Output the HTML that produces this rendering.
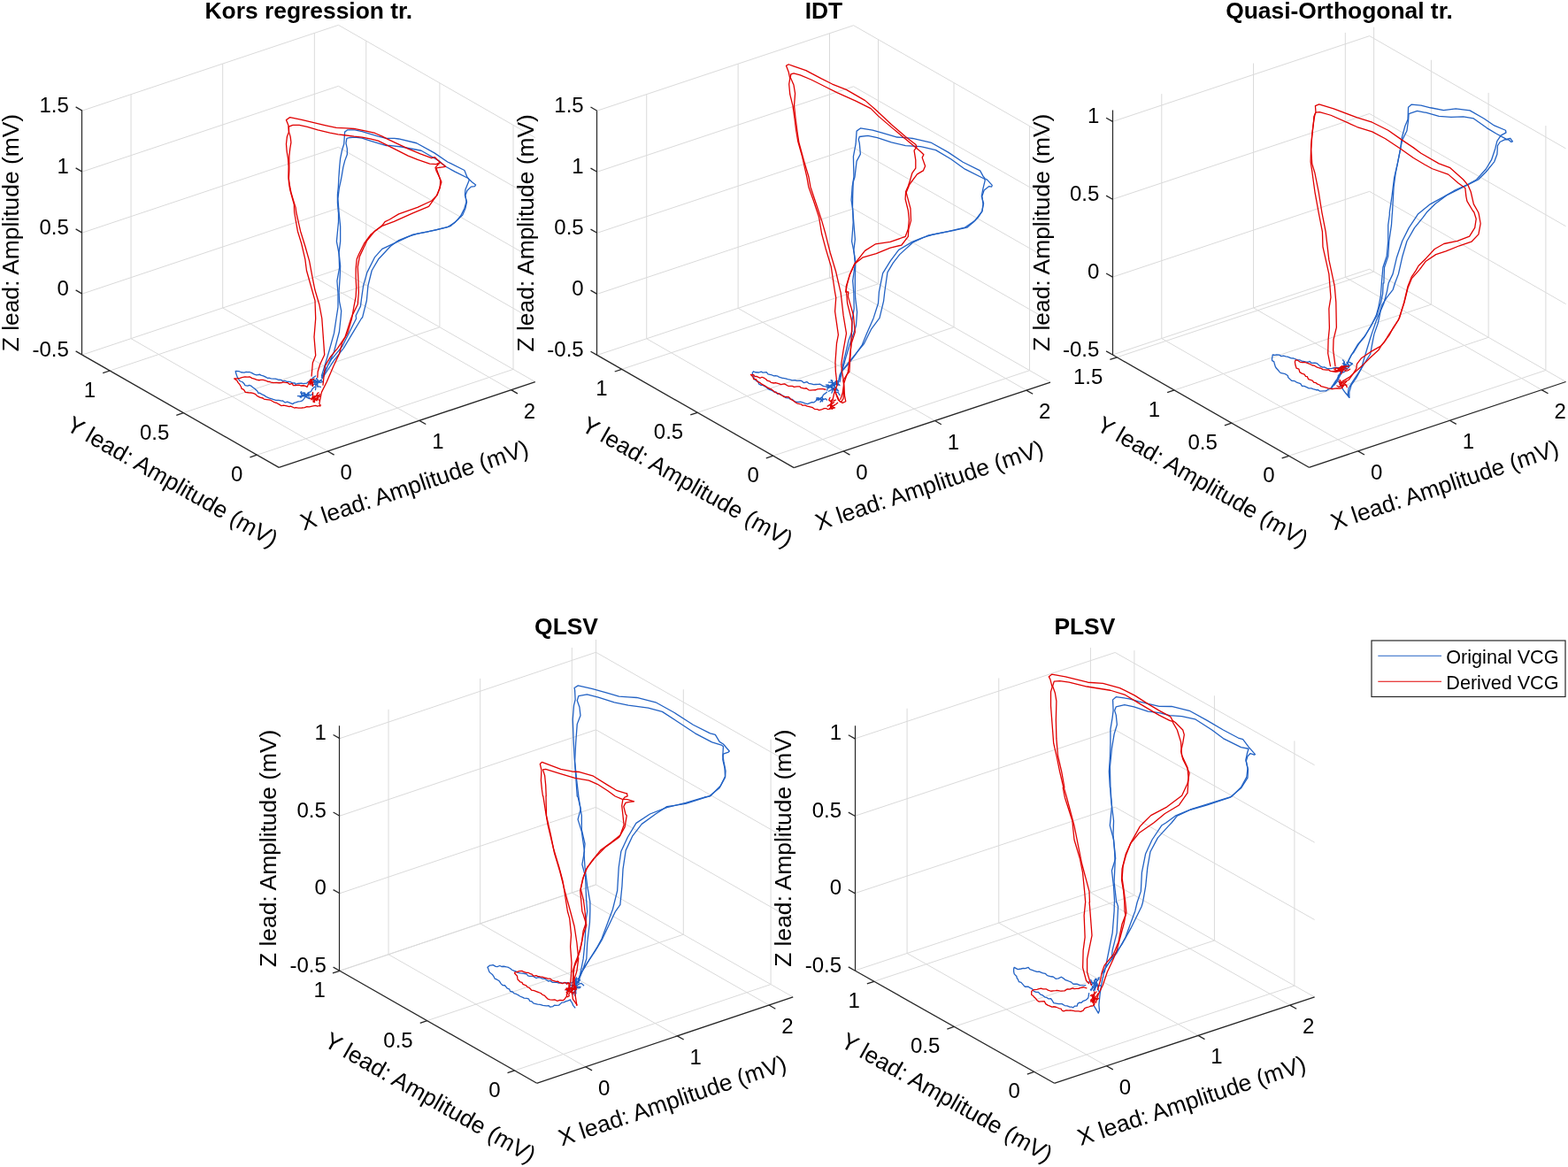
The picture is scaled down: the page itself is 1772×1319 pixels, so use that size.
<!DOCTYPE html>
<html><head><meta charset="utf-8"><title>VCG</title><style>html,body{margin:0;padding:0;background:#fff;}svg{display:block;}text{font-family:'Liberation Sans',Arial,Helvetica,sans-serif;}</style></head><body>
<svg width="1772" height="1319" viewBox="0 0 1772 1319" font-family="'Liberation Sans', Arial, Helvetica, sans-serif"><rect width="1772" height="1319" fill="#fff"/><g id="ax0"><g class="grid"><line x1="92.9" y1="401.1" x2="382.5" y2="304.3" stroke="#dadada" stroke-width="1.0"/><line x1="92.9" y1="332.1" x2="382.5" y2="235.3" stroke="#dadada" stroke-width="1.0"/><line x1="92.9" y1="263.1" x2="382.5" y2="166.3" stroke="#dadada" stroke-width="1.0"/><line x1="92.9" y1="194.1" x2="382.5" y2="97.3" stroke="#dadada" stroke-width="1.0"/><line x1="92.9" y1="125.1" x2="382.5" y2="28.3" stroke="#dadada" stroke-width="1.0"/><line x1="148.04" y1="382.67" x2="148.04" y2="106.67" stroke="#dadada" stroke-width="1.0"/><line x1="251.69" y1="348.02" x2="251.69" y2="72.02" stroke="#dadada" stroke-width="1.0"/><line x1="355.34" y1="313.38" x2="355.34" y2="37.38" stroke="#dadada" stroke-width="1.0"/><line x1="382.5" y1="304.3" x2="604.8" y2="431.6" stroke="#dadada" stroke-width="1.0"/><line x1="382.5" y1="235.3" x2="604.8" y2="362.6" stroke="#dadada" stroke-width="1.0"/><line x1="382.5" y1="166.3" x2="604.8" y2="293.6" stroke="#dadada" stroke-width="1.0"/><line x1="382.5" y1="97.3" x2="604.8" y2="224.6" stroke="#dadada" stroke-width="1.0"/><line x1="382.5" y1="28.3" x2="604.8" y2="155.6" stroke="#dadada" stroke-width="1.0"/><line x1="580.03" y1="417.41" x2="580.03" y2="141.41" stroke="#dadada" stroke-width="1.0"/><line x1="496.89" y1="369.81" x2="496.89" y2="93.81" stroke="#dadada" stroke-width="1.0"/><line x1="413.76" y1="322.2" x2="413.76" y2="46.2" stroke="#dadada" stroke-width="1.0"/><line x1="370.34" y1="509.97" x2="148.04" y2="382.67" stroke="#dadada" stroke-width="1.0"/><line x1="473.99" y1="475.32" x2="251.69" y2="348.02" stroke="#dadada" stroke-width="1.0"/><line x1="577.64" y1="440.68" x2="355.34" y2="313.38" stroke="#dadada" stroke-width="1.0"/><line x1="290.43" y1="514.21" x2="580.03" y2="417.41" stroke="#dadada" stroke-width="1.0"/><line x1="207.29" y1="466.61" x2="496.89" y2="369.81" stroke="#dadada" stroke-width="1.0"/><line x1="124.16" y1="419" x2="413.76" y2="322.2" stroke="#dadada" stroke-width="1.0"/></g>
<g class="axes" stroke-linecap="butt"><line x1="92.5" y1="401.1" x2="92.5" y2="125.1" stroke="#262626" stroke-width="1.2"/><line x1="92.9" y1="401.1" x2="315.2" y2="528.4" stroke="#262626" stroke-width="1.3"/><line x1="315.2" y1="528.4" x2="604.8" y2="431.6" stroke="#262626" stroke-width="1.3"/><line x1="92.9" y1="401.1" x2="85.61" y2="396.93" stroke="#262626" stroke-width="1.3"/><line x1="92.9" y1="332.1" x2="85.61" y2="327.93" stroke="#262626" stroke-width="1.3"/><line x1="92.9" y1="263.1" x2="85.61" y2="258.93" stroke="#262626" stroke-width="1.3"/><line x1="92.9" y1="194.1" x2="85.61" y2="189.93" stroke="#262626" stroke-width="1.3"/><line x1="92.9" y1="125.1" x2="85.61" y2="120.93" stroke="#262626" stroke-width="1.3"/><line x1="290.43" y1="514.21" x2="282.46" y2="516.88" stroke="#262626" stroke-width="1.3"/><line x1="207.29" y1="466.61" x2="199.33" y2="469.27" stroke="#262626" stroke-width="1.3"/><line x1="124.16" y1="419" x2="116.19" y2="421.66" stroke="#262626" stroke-width="1.3"/><line x1="370.34" y1="509.97" x2="377.63" y2="514.14" stroke="#262626" stroke-width="1.3"/><line x1="473.99" y1="475.32" x2="481.28" y2="479.5" stroke="#262626" stroke-width="1.3"/><line x1="577.64" y1="440.68" x2="584.93" y2="444.85" stroke="#262626" stroke-width="1.3"/></g>
<g font-size="24" fill="#000"><text x="77.8" y="402.6" text-anchor="end">-0.5</text><text x="77.8" y="333.6" text-anchor="end">0</text><text x="77.8" y="264.6" text-anchor="end">0.5</text><text x="77.8" y="195.6" text-anchor="end">1</text><text x="77.8" y="126.6" text-anchor="end">1.5</text><text x="274.43" y="544.21" text-anchor="end">0</text><text x="191.29" y="496.61" text-anchor="end">0.5</text><text x="108.16" y="449" text-anchor="end">1</text><text x="384.54" y="541.97">0</text><text x="488.19" y="507.32">1</text><text x="591.84" y="472.68">2</text></g>
<g font-size="26.4" fill="#000"><text transform="translate(21.2 263.1) rotate(-90)" text-anchor="middle">Z lead: Amplitude (mV)</text><text transform="translate(190.46 552.27) rotate(29.8)" text-anchor="middle">Y lead: Amplitude (mV)</text><text transform="translate(471.04 556.87) rotate(-18.48)" text-anchor="middle">X lead: Amplitude (mV)</text></g>
<text x="348.85" y="21.1" text-anchor="middle" font-size="26.4" font-weight="bold">Kors regression tr.</text><g fill="none" stroke-width="1.3" stroke-linejoin="round" stroke-linecap="round"><polyline points="363.4,425 367.5,411.7 371.7,397.5 377.5,376.7 380,360 381.99,347.16 381.99,331.25 380.93,317.45 383.58,302.6 383.05,286.68 380.4,272.89 382.52,250.61 382.52,240 382.35,240.02 381.44,229.19 381.44,220.09 382.35,210.99 382.8,201.89 383.71,188.24 384.62,179.14 386.44,170.05 388.72,162.77 389.17,156.4 389.63,149.12 392.81,146.84 401,146.84 409.19,148.66 418.29,151.39 427.39,154.12 436.49,156.4 445.59,156.4 450.61,156.98 470.77,161.75 490.93,172.89 505.78,182.97 524.88,192.52 528.06,200.48 530.19,202.6 533.37,205.78 537.61,208.97 536.55,210.56 532.31,211.09 528.06,215.33 525.94,220.64 527,228.06 524.88,235.49 520.64,243.98 514.27,251.41 505.78,256.71 493.05,259.89 471.83,264.14 461.22,267.32 450.61,271.56 441.41,278.2 427.61,293.05 420.19,305.78 415.94,322.76 414.35,339.73 409.58,358.83 408.4,360 398.4,376.7 388.4,393.4 376.7,408.4 369.2,420 364,428" stroke="#2262c4"/><polyline points="365,426.7 370,414.2 377.5,397.5 383.4,375 385,360 385.7,351.41 383.58,340.8 383.05,330.19 384.11,314.27 384.64,300.48 383.05,285.62 384.64,272.89 384.64,255.92 383.05,240 381.89,224.64 383.26,212.81 385.08,204.62 386.44,197.34 387.81,189.15 389.63,181.87 392.36,174.6 392.36,168.23 390.99,161.86 391.9,156.4 395.54,155.49 401,155.03 409.19,156.21 418.29,159.13 427.39,161.86 436.49,164.59 440,164.4 453.79,165.99 476.07,170.24 496.23,181.91 503.66,188.28 514.27,194.11 529.12,201.54 530.19,203.66 528.06,208.97 525.94,214.27 525.41,220.64 527.53,228.06 525.94,235.49 522.76,242.92 518.51,247.16 508.97,255.65 503.66,257.24 482.44,262.02 466.53,265.2 450.61,272.63 431.86,281.38 423.37,290.93 414.88,307.9 410.64,322.76 408.51,337.61 407.45,346.1 402.15,356.71 402.6,360 394.2,376.7 386.7,391.7 374.2,406.7 367.5,418.4 363.4,426.7" stroke="#2262c4"/><polyline points="356.66,424.92 353.24,427.29 353.22,428.22 351.05,428.85 349.52,430.65 346.51,433.16 342.84,433.71 340.5,433.14 336.9,433.36 333.78,434.31 333.37,432.92 330.49,433 328.49,431.69 326.33,431.38 324.17,431.42 321.92,430.27 319.39,430.67 317.64,429.31 314.03,428.99 311.19,428.05 309.21,428.19 306.34,427.93 304.42,427.24 302.27,427.29 301.28,426.69 297.61,424.84 294.88,424.11 293.72,423.26 290.01,423.98 287.47,423.09 284.3,421.43 281.9,420.51 280.48,420.61 278.16,420.46 275.97,421.06 272.47,420.73 270.32,419.72 266.25,419.38 266.39,420.95 267.55,424.49 268.46,426.72 269.75,428.66 271.17,430.75 273.98,431.74 276.13,433.92 276.89,435.58 280.02,436.13 281.65,435.47 283.67,436.06 285.59,437.74 288.11,439.52 290.99,442.31 292,444.45 293.66,444.27 295.79,445.63 298.14,446.64 301.16,448.58 302.91,449.3 304.77,450.22 307.17,450.78 308.67,451.42 311.72,452.39 314.96,452.39 318.21,453.05 319.54,452.93 322.18,454.99 324.69,454.09 325.87,454.6 330.73,456.59 333,455.08 334.14,454.95 337.19,453.91 339.47,453.59 341.68,452.94 343.19,451.18 345.09,448.64 347.97,446.8 348.73,443.64 351.42,442.6 353.3,439.14 355.59,437.21" stroke="#2262c4"/><polyline points="355.95,429.66 355.34,430.01 355.25,431.91 356.41,434.38 356.72,435.25 356.88,436.57 356.75,439.13 356.46,440.56" stroke="#2262c4"/><polyline points="363.88,430.78 362.01,429.81 359.72,432.52 357.4,431.46 358.28,433.49 357.02,434.73 355.59,434.23 353.25,435.09 352.51,435.76" stroke="#2262c4"/><polyline points="359.03,437.36 358.27,435.52 358.08,434.97 358.97,432.59 359.62,429.99 357.69,427.57 357.4,428.48" stroke="#2262c4"/><polyline points="364.67,431.74 361.92,432.46 360.85,432.32 360.81,431.02 357.95,432.27 357.08,432.39 354.01,432.09 351.81,431.94 352.26,433.24" stroke="#2262c4"/><polyline points="362.39,437.27 359.06,436.56 358.87,435.86 358.71,433.15 357.17,432.36 355.55,431.02 354.16,428.93" stroke="#2262c4"/><polyline points="363.35,428.93 360.6,431.26 359.24,431.92 358.5,430.63 356.25,430 354.43,430.35 352.3,433.01 350.19,432.58 349.9,432.91" stroke="#2262c4"/><polyline points="344.77,444.13 343.5,443.91 344.29,446.11 342.19,446.8 339.13,448.96 339.2,447.57" stroke="#2262c4"/><polyline points="349.88,445.72 347.81,444.14 346.43,447.45 344.28,446.94 344.76,447.33 342.4,447.91 340.03,447.99 340.11,449.54" stroke="#2262c4"/><polyline points="339.94,443.39 339.77,443.3 340.79,446.08 341.92,447.19 344.47,447.81 345.71,448.44 347.27,449.54 348.46,450.14 350.67,450.04" stroke="#2262c4"/><polyline points="349.61,450.58 349.23,449.08 346.84,448.88 345.74,447.85 344.62,447.75 344.28,445.23 342.43,443.94 340.82,445.19 340.7,442.65" stroke="#2262c4"/><polyline points="336.38,447.53 339.5,447.6 340.52,448.27 341.68,446.09 345.51,446.56 344.73,445.51 348.02,446.21 348.73,447.44 352.05,446.38 353.63,444.51" stroke="#2262c4"/><polyline points="352.1,425 353.4,410 356.7,401.7 355,380.9 356.7,360 355.99,339.73 351.22,322.76 346.45,305.78 344.85,293.05 340.61,275.01 336.37,261.22 332.65,240 332.3,231.01 330.03,222.82 327.75,214.63 326.57,207.35 325.93,200.07 326.11,188.24 325.48,179.14 324.11,170.96 323.48,162.77 324.39,154.58 326.39,149.12 325.93,141.84 324.57,138.2 323.48,135.65 327.75,132.56 340.95,135.47 354.6,138.65 368.24,141.84 380.07,144.39 390.99,144.84 400.09,145.48 413.74,148.03 423.75,150.48 431.94,154.12 438.31,157.31 461.22,168.12 475.01,173.95 487.75,178.73 491.46,177.67 496.23,182.44 503.66,188.28 493.05,189.87 495.17,196.23 497.82,203.66 497.29,212.15 493.05,221.7 484.56,233.37 466.53,240.8 445.31,250.34 431.86,255.38 423.37,261.22 414.88,271.83 406.39,289.87 404.27,301.54 404.8,314.27 405.33,330.19 404.27,343.98 398.97,354.59 396.7,360 390,380.9 381.7,393.4 373.4,403.4 367.5,413.4 365.9,426.7 365,435.1" stroke="#e00000"/><polyline points="358.8,426.7 359.2,420 361.7,411.7 366.7,400.9 365,376.7 363.8,360 360.77,343.98 355.99,328.06 352.81,312.15 349.63,295.17 344.85,278.2 339.55,261.22 334.77,240 334.12,234.65 331.85,227.37 329.12,218.27 327.3,209.17 326.39,201.89 326.84,192.79 326.84,183.69 326.84,176.41 327.75,168.23 328.94,160.95 328.21,154.58 326.57,149.12 326.39,143.2 330.94,141.38 338.22,141.47 347.32,143.48 359.14,146.84 372.79,150.03 381.89,151.85 389.17,152.76 400.09,154.12 409.19,155.03 418.29,156.85 427.39,159.13 436.49,163.68 447.41,169.14 461.22,176.07 471.83,180.32 485.62,185.09 493.05,185.62 497.29,183.5 491.99,189.34 493.05,193.05 496.23,199.42 498.89,205.78 496.23,214.27 494.11,220.64 487.75,227 471.83,234.43 450.61,241.86 440,248.22 435.04,250.61 431.86,254.85 419.12,264.93 411.7,275.01 405.33,287.75 403.21,293.05 402.15,303.66 402.15,314.27 402.68,324.88 402.15,335.49 400.03,346.1 397.6,360 392.6,376.7 386.7,387.5 383.4,400 376.7,414.2 369.2,431.7 363.4,443.4 360.9,455.9 361.7,459.2" stroke="#e00000"/><polyline points="362.59,458 358.95,459.22 356.55,458.41 353.76,458.8 349.55,459.92 346.8,459.65 344.29,460.58 341.13,461.01 339.87,461.09 337.24,461.13 334.2,460.62 332.68,461.02 328.39,459.11 327.01,459.64 323.1,458.68 320.42,458.22 317.81,458.54 316,457.37 312.72,455.46 311.64,455.25 309.23,454.31 307.96,453.52 305.62,452.23 303.48,451.93 301.34,451.59 298.32,451.12 297.1,450 293.8,449.14 291.74,448.07 289.99,447.01 288.92,445.52 285.98,444.4 284.39,444.01 280.71,443.75 277.34,443.33 275.47,440.38 273.21,439.44 272.58,437.47 270.71,434.26 269,432.42 267.89,430.31 264.72,427.97 268.41,427.89 271.2,427.29 273.43,426.64 276.9,425.85 279.38,426.19 282.5,426.01 284.57,427.34 288.04,428.34 289.82,429.13 292.82,429.76 294.86,429.39 297.33,429.36 299.94,430.03 302.85,431.32 304.89,431.49 306.31,432.04 308.56,432.49 312.72,432.7 315.64,432.76 318.24,432.67 319.65,431.86 322.34,432.39 325.29,432.64 327.41,434.45 330.23,433.47 331.42,435.56 333.81,435.64 337.88,435.04 339.95,436 342.98,435.74 344.74,436.11 347.2,437.31 348.8,433.45 349.8,432.07 352.4,429.43" stroke="#e00000"/><polyline points="361.23,447.73 359.22,447 357.46,447.22 355.27,449.53 355.83,449.72 353.58,449.24 351.95,450.61 350.8,450.7" stroke="#e00000"/><polyline points="351.91,451.82 354.91,449.38 354.84,448.63 355.48,447.63 357.58,447.51 358.8,444.46 360.24,443.93" stroke="#e00000"/><polyline points="355.58,454.6 355.2,451.41 357.74,450.02 358.76,450.09 358.26,448.14 359.36,447.28 361.59,445.66" stroke="#e00000"/><polyline points="354.21,453.95 356.64,451.52 358.05,452.74 359.38,449.01 358.75,450.16 361.39,447.61" stroke="#e00000"/><polyline points="353.5,443.37 353.48,445.34 353.87,447.99 353.15,448.05 354.35,451.4 353.9,451.7 354.35,454.33" stroke="#e00000"/><polyline points="353.18,448.89 354.99,448.87 355.08,449.9 357.51,450.69 359.31,450.25 360.1,451.87 360.84,452.56" stroke="#e00000"/><polyline points="348.42,431.55 352.51,432.85 354.22,431.53 354.03,431.43" stroke="#e00000"/><polyline points="353.54,436.51 352.32,434.65 353.75,433.84 350.94,430.18 352,428.8 351.96,429.2" stroke="#e00000"/><polyline points="351.11,428.73 350.24,430.45 350.87,430.93 352.86,432.89 351.67,433.31 353.94,435.3" stroke="#e00000"/><polyline points="350.9,434.94 350.01,434.25 352.02,431.49 352.35,430.23 354.99,427.9" stroke="#e00000"/></g></g>
<g id="ax1"><g class="grid"><line x1="674.8" y1="401.4" x2="964.6" y2="304.9" stroke="#dadada" stroke-width="1.0"/><line x1="674.8" y1="332.35" x2="964.6" y2="235.85" stroke="#dadada" stroke-width="1.0"/><line x1="674.8" y1="263.3" x2="964.6" y2="166.8" stroke="#dadada" stroke-width="1.0"/><line x1="674.8" y1="194.25" x2="964.6" y2="97.75" stroke="#dadada" stroke-width="1.0"/><line x1="674.8" y1="125.2" x2="964.6" y2="28.7" stroke="#dadada" stroke-width="1.0"/><line x1="730.73" y1="382.77" x2="730.73" y2="106.57" stroke="#dadada" stroke-width="1.0"/><line x1="834.12" y1="348.35" x2="834.12" y2="72.15" stroke="#dadada" stroke-width="1.0"/><line x1="937.51" y1="313.92" x2="937.51" y2="37.72" stroke="#dadada" stroke-width="1.0"/><line x1="964.6" y1="304.9" x2="1187" y2="432.1" stroke="#dadada" stroke-width="1.0"/><line x1="964.6" y1="235.85" x2="1187" y2="363.05" stroke="#dadada" stroke-width="1.0"/><line x1="964.6" y1="166.8" x2="1187" y2="294" stroke="#dadada" stroke-width="1.0"/><line x1="964.6" y1="97.75" x2="1187" y2="224.95" stroke="#dadada" stroke-width="1.0"/><line x1="964.6" y1="28.7" x2="1187" y2="155.9" stroke="#dadada" stroke-width="1.0"/><line x1="1163.56" y1="418.7" x2="1163.56" y2="142.5" stroke="#dadada" stroke-width="1.0"/><line x1="1078.02" y1="369.77" x2="1078.02" y2="93.57" stroke="#dadada" stroke-width="1.0"/><line x1="992.49" y1="320.85" x2="992.49" y2="44.65" stroke="#dadada" stroke-width="1.0"/><line x1="953.13" y1="509.97" x2="730.73" y2="382.77" stroke="#dadada" stroke-width="1.0"/><line x1="1056.52" y1="475.55" x2="834.12" y2="348.35" stroke="#dadada" stroke-width="1.0"/><line x1="1159.91" y1="441.12" x2="937.51" y2="313.92" stroke="#dadada" stroke-width="1.0"/><line x1="873.76" y1="515.2" x2="1163.56" y2="418.7" stroke="#dadada" stroke-width="1.0"/><line x1="788.22" y1="466.27" x2="1078.02" y2="369.77" stroke="#dadada" stroke-width="1.0"/><line x1="702.69" y1="417.35" x2="992.49" y2="320.85" stroke="#dadada" stroke-width="1.0"/></g>
<g class="axes" stroke-linecap="butt"><line x1="674.5" y1="401.4" x2="674.5" y2="125.2" stroke="#262626" stroke-width="1.2"/><line x1="674.8" y1="401.4" x2="897.2" y2="528.6" stroke="#262626" stroke-width="1.3"/><line x1="897.2" y1="528.6" x2="1187" y2="432.1" stroke="#262626" stroke-width="1.3"/><line x1="674.8" y1="401.4" x2="667.51" y2="397.23" stroke="#262626" stroke-width="1.3"/><line x1="674.8" y1="332.35" x2="667.51" y2="328.18" stroke="#262626" stroke-width="1.3"/><line x1="674.8" y1="263.3" x2="667.51" y2="259.13" stroke="#262626" stroke-width="1.3"/><line x1="674.8" y1="194.25" x2="667.51" y2="190.08" stroke="#262626" stroke-width="1.3"/><line x1="674.8" y1="125.2" x2="667.51" y2="121.03" stroke="#262626" stroke-width="1.3"/><line x1="873.76" y1="515.2" x2="865.79" y2="517.85" stroke="#262626" stroke-width="1.3"/><line x1="788.22" y1="466.27" x2="780.25" y2="468.93" stroke="#262626" stroke-width="1.3"/><line x1="702.69" y1="417.35" x2="694.72" y2="420" stroke="#262626" stroke-width="1.3"/><line x1="953.13" y1="509.97" x2="960.43" y2="514.15" stroke="#262626" stroke-width="1.3"/><line x1="1056.52" y1="475.55" x2="1063.81" y2="479.72" stroke="#262626" stroke-width="1.3"/><line x1="1159.91" y1="441.12" x2="1167.2" y2="445.29" stroke="#262626" stroke-width="1.3"/></g>
<g font-size="24" fill="#000"><text x="659.7" y="402.9" text-anchor="end">-0.5</text><text x="659.7" y="333.85" text-anchor="end">0</text><text x="659.7" y="264.8" text-anchor="end">0.5</text><text x="659.7" y="195.75" text-anchor="end">1</text><text x="659.7" y="126.7" text-anchor="end">1.5</text><text x="857.76" y="545.2" text-anchor="end">0</text><text x="772.22" y="496.27" text-anchor="end">0.5</text><text x="686.69" y="447.35" text-anchor="end">1</text><text x="967.33" y="541.97">0</text><text x="1070.72" y="507.55">1</text><text x="1174.11" y="473.12">2</text></g>
<g font-size="26.4" fill="#000"><text transform="translate(603.1 263.3) rotate(-90)" text-anchor="middle">Z lead: Amplitude (mV)</text><text transform="translate(772.46 552.53) rotate(29.77)" text-anchor="middle">Y lead: Amplitude (mV)</text><text transform="translate(1053.05 557.23) rotate(-18.42)" text-anchor="middle">X lead: Amplitude (mV)</text></g>
<text x="930.9" y="21.4" text-anchor="middle" font-size="26.4" font-weight="bold">IDT</text><g fill="none" stroke-width="1.3" stroke-linejoin="round" stroke-linecap="round"><polyline points="946.66,435.55 949.03,423.7 950.77,419.99 950.8,420 954.59,403.4 959.14,384.44 962.93,374.59 962.93,362.46 965.2,348.81 964.82,331.37 964.74,329.98 963.67,317.35 966.33,298.25 965.27,285.51 962.61,272.78 964.2,251.55 963.67,236.69 962.08,226.08 963.14,211.22 964.93,200.04 964.4,176.79 967.06,162.98 968.12,148.12 972.37,144.93 986.17,147.06 996.79,150.24 1013.77,155.02 1028.64,156.08 1031.37,156.49 1051.85,161.04 1071.18,171.85 1088.24,183.22 1107.58,192.89 1110.99,199.14 1113.27,201.99 1115.54,203.13 1121.23,209.38 1120.66,211.09 1117.82,210.52 1112.13,215.07 1109.85,221.89 1110.99,230.99 1109.85,238.95 1105.3,245.78 1099.62,251.46 1092.79,257.15 1076.87,260.56 1054.12,265.11 1042.75,268.53 1031.37,273.08 1015.67,282.33 1006.12,295.06 997.63,308.86 993.39,329.98 992.49,342.74 987.19,359.42 979.61,376.86 974.3,389.75 965.96,401.88 959.14,410.98 951.55,419.32 946.66,433.18" stroke="#2262c4"/><polyline points="949.03,431.6 952.27,416.99 952.31,417.04 956.1,403.4 960.65,388.23 965.96,373.07 967.48,367.76 968.61,352.6 966.72,337.44 966.33,329.98 966.33,312.04 966.86,296.12 964.74,283.39 966.33,270.65 964.95,253.67 963.46,234.57 963.67,221.84 964.2,205.92 966,200.04 968.12,182.09 972.37,174.13 971.3,161.92 970.24,157.67 971.3,154.49 980.86,153.43 991.48,155.55 1007.4,160.86 1023.33,164.58 1040,165.64 1042.75,166.16 1057.53,169.57 1074.6,179.81 1090.52,191.18 1112.13,201.99 1113.27,203.69 1110.99,212.79 1109.29,221.89 1111.56,229.85 1109.85,238.95 1101.89,249.19 1090.52,257.15 1071.18,261.7 1048.43,266.25 1031.37,274.21 1016.74,287.63 1009.31,297.18 1002.94,307.8 999.76,329.98 998.56,340.47 994.01,359.42 984.91,371.55 976.57,388.23 966.72,400.36 959.14,409.46 952.31,418.56" stroke="#2262c4"/><polyline points="937.91,437.79 935.23,437.08 931.41,436.72 929.87,436.07 926.39,434.04 924.87,434.4 921.84,434.52 919.48,434.62 916.9,433.91 913.99,433.27 911.81,431.55 908.53,432.71 905.88,430.49 903.98,430.19 900.64,430.3 898.42,429.75 894.95,429.82 893.69,429.43 890.21,428.73 887.83,427.94 884.96,427.44 884.24,427.36 880.44,426.16 878.99,425.23 876.24,424.55 874.64,424.95 871.35,423.52 867.95,422.91 866.18,420.6 862.12,421.07 860.2,420.05 857.66,420.99 853.61,420.73 851.41,419.78 850.24,421.61 851.26,425.21 852.53,428.35 854.49,430.29 856.74,431.04 857.63,433.98 859.73,435.23 861.56,435.03 864.06,436.67 865.68,437.31 867.41,439.15 869.69,440.48 872.41,441.46 873.84,442.11 874.95,443.11 876.84,442.93 878.76,445.45 880.83,444.86 884.15,447.07 885.85,447.68 887.91,449.57 892.2,450.17 892.88,451.03 895.57,451.4 896.53,452.69 899.08,454.27 901.78,454.31 905.13,454.27 906.42,454.64 909.75,455.8 912.58,456.53 917.52,454.66 919.68,454.94 922.97,452.22 925.71,451.35 926.85,450.08 929.03,449.11 930.46,446.27 932.34,444.89 934.32,443.29" stroke="#2262c4"/><polyline points="946.75,440.13 943.72,441.28 943.16,439.83 940.75,439.45 940.37,438.68 937.98,437.1 937.27,436.33 933.54,434.86" stroke="#2262c4"/><polyline points="949,446.69 947.13,443.52 943.82,443.17 942.75,440.77 941.63,440.2 942.23,440.86 940.55,439.69 938.79,436.9 938.56,437.13 935.71,434.81" stroke="#2262c4"/><polyline points="936.54,432.16 938.12,432.08 941.27,432.7 942.02,434.81 944.15,434.29 944.17,433.92 947.41,434.77 948.32,434.76 949.02,435.62" stroke="#2262c4"/><polyline points="938.95,429.96 940.8,430.39 940.51,431.16 940.38,433.94 939.78,436.41 940.85,438.14 940.29,438.43 940.78,442 939.89,444.18" stroke="#2262c4"/><polyline points="945.98,430.73 944.5,430.9 943.97,431.72 944.49,434.42 942.22,435.39 940.5,436.34 938.62,435.9 938.15,436.83 936.29,438.7 935.26,438.31 934.72,441.11" stroke="#2262c4"/><polyline points="947.63,430.46 943.83,431.92 942.73,433.54 940.94,432.4 940.57,434.73 938.86,435.03 939.22,435.51 935.2,437.15 934.13,437.36" stroke="#2262c4"/><polyline points="936.36,442.21 937.31,441.72 939.44,440.61 940.83,440.4 941.14,438.67 944.01,438.21 942.77,436.3 945.14,433.21 947.58,433.08" stroke="#2262c4"/><polyline points="939.72,429.58 941.26,433.47 943.2,432.85 941.45,435.21 943.19,436.93 945.42,438.89 945.21,440.34 947.71,441.98" stroke="#2262c4"/><polyline points="934.43,452.05 933.05,450.59 929.76,451.93 927.81,451.96 927.59,450.34 925.3,452.2 922.82,450.93 922.5,452.13" stroke="#2262c4"/><polyline points="922.93,449.79 925.07,450.19 928.07,451.67 928.37,451.5 929.59,450.69 930.79,451.33" stroke="#2262c4"/><polyline points="923.22,449.79 925.33,450.02 924.74,450.78 927.62,450.91 929.64,453.63 929.35,453.83" stroke="#2262c4"/><polyline points="929.04,448.91 929.99,451.55 928.95,452.01 927.02,454.23" stroke="#2262c4"/><polyline points="941.13,451.35 942.71,444.24 945.87,435.55 945.08,426.07 944.35,420 943.97,409.46 945.49,388.23 947.38,378.38 943.59,351.84 944.73,336.68 943.51,329.98 939.27,301.43 932.9,280.2 928.65,264.29 925.47,245.18 919.1,226.08 913.8,211.22 911.85,200.04 906.54,176.79 901.76,159.8 899.64,147.06 898.05,134.32 895.93,119.45 892.74,106.71 891.68,95.04 892.74,88.67 891.15,81.23 888.49,74.33 891.15,72.74 896.99,74.86 910.79,79.64 927.78,88.67 940.52,95.04 956.44,101.41 977.67,113.62 990.42,124.76 1007.4,140.69 1023.33,154.49 1035.01,163.51 1035.92,166.16 1033.08,170.14 1034.79,180.95 1034.79,190.05 1030.81,195.73 1028.53,203.69 1026.26,210.52 1023.63,216.53 1023.1,225.02 1026.29,237.76 1027.35,248.37 1026.29,258.98 1023.1,267.47 1006.12,273.31 989.14,275.96 977.47,283.39 965.8,298.25 960.49,309.92 957.31,321.59 955.71,329.98 956.48,330.01 957.62,342.74 962.93,363.97 961.79,388.23 959.89,420 959.93,419.99 956.93,423.7 952.98,430.02 953.77,437.13 954.56,447.4 955.75,453.73 952.19,455.31 949.03,453.73 945.87,447.4 942.71,439.5" stroke="#e00000"/><polyline points="949.82,451.35 952.19,444.24 953.77,433.18 951.55,420 950.8,410.98 953.07,395.82 956.48,376.86 953.07,356.39 950.04,329.86 949.88,329.98 944.57,306.74 938.2,285.51 932.9,264.29 928.65,249.43 922.29,230.33 915.92,211.22 913.97,200.04 908.67,182.09 902.83,160.86 901.23,150.24 899.11,134.32 897.52,119.45 898.58,105.65 896.99,96.1 893.27,87.6 893.8,83.89 896.99,82.83 904.42,84.95 917.16,90.26 933.08,98.22 945.82,104.59 967.06,114.15 984.05,122.64 992.54,131.13 1007.4,143.87 1026.51,159.8 1040,170.95 1043.89,174.69 1042.18,178.1 1045.59,187.77 1043.32,192.89 1036.49,196.87 1027.96,208.24 1024.16,217.59 1028.94,235.63 1029.47,249.43 1026.82,258.98 1026.29,267.47 1018.86,277.02 1006.12,280.2 990.2,286.57 975.35,290.82 965.8,298.25 960.49,309.92 956.25,323.72 956.25,329.98 958.76,330.01 958.38,335.16 964.44,356.39 966.34,375.34 962.17,388.23 958.38,420 958.43,419.99 956.14,426.07 953.77,433.18 953.77,441.08 952.98,450.56 950.61,454.52 947.45,452.15 944.29,444.24" stroke="#e00000"/><polyline points="932.92,440.24 929.92,439.66 926.52,439.62 923.71,439.9 921.85,440.74 918.56,440.82 915.81,441.19 913.95,440.81 911.19,438.76 909.01,439.08 904.96,438.07 903.69,436.83 900.67,436.81 897.41,437.39 895.34,436.4 892.19,436.33 890.73,436.29 886.54,433.87 884.9,434.13 882.69,434.61 879.93,433.65 876.37,432.62 874.65,433 871.35,432.35 870.29,431.2 866.88,430.02 865.8,428.74 863.85,427.45 861.05,426.26 859.14,427.29 854.95,425.32 852.95,425.49 851.74,423.61 848.39,423.42 850.93,426.11 851.75,428.52 854.55,428.74 856.13,431.46 858.6,432.36 860.37,433.92 862.61,435.08 865.37,436.68 866.73,437.6 870.19,439.31 871.36,439.68 873.71,441.48 875.23,442.86 876.63,443.73 879.58,444.79 880.71,445.37 883.82,447.03 886.17,448.65 887.95,448.33 891.06,448.57 893.38,450.71 895.02,452.09 896.87,453.04 898.49,454.49 900.5,455.76 904.01,456.61 905.63,456.94 906.57,458.22 909.89,458.17 912.31,459.13 914.57,459.7 918.4,460.69 920.43,462.33 923.69,462.54 925.58,463.62 928.4,462.99 931.38,461.59 933.57,461.56 935.59,462.72 937.9,462.21 943.55,460.86 940.76,460.23 939.81,457.37 939.47,454.66 940.4,453.35 941.05,451.18" stroke="#e00000"/><polyline points="940.5,462.42 938.93,460.09 938.96,459.23 939.28,456.44 939.56,456.19 939.26,454.34 936.72,451.96 937.98,449.44" stroke="#e00000"/><polyline points="937.38,462.26 938.61,460.42 939.77,459.52 940.69,459.59 942.64,457.91 944.64,456.99 946.61,455.28" stroke="#e00000"/><polyline points="938.85,460.56 939.47,460.27 939.47,458.77 937.71,458.02 940.09,454.84 939.89,452.05 939.07,452.52" stroke="#e00000"/><polyline points="943.31,457.75 941.4,458.97 938.7,457.8 938.36,457 935.13,459.08" stroke="#e00000"/><polyline points="944.42,452.08 942.33,452.57 942.16,454.91 941.39,455.61 939.05,456.68 938.85,459.42 938.55,458.65 938.62,460.32" stroke="#e00000"/></g></g>
<g id="ax2"><g class="grid"><line x1="1257.4" y1="401" x2="1547.7" y2="304.2" stroke="#dadada" stroke-width="1.0"/><line x1="1257.4" y1="313.14" x2="1547.7" y2="216.34" stroke="#dadada" stroke-width="1.0"/><line x1="1257.4" y1="225.28" x2="1547.7" y2="128.48" stroke="#dadada" stroke-width="1.0"/><line x1="1257.4" y1="137.43" x2="1547.7" y2="40.63" stroke="#dadada" stroke-width="1.0"/><line x1="1312.8" y1="382.53" x2="1312.8" y2="106.13" stroke="#dadada" stroke-width="1.0"/><line x1="1416.56" y1="347.93" x2="1416.56" y2="71.53" stroke="#dadada" stroke-width="1.0"/><line x1="1520.31" y1="313.33" x2="1520.31" y2="36.93" stroke="#dadada" stroke-width="1.0"/><line x1="1547.7" y1="304.2" x2="1769.6" y2="431.5" stroke="#dadada" stroke-width="1.0"/><line x1="1547.7" y1="216.34" x2="1769.6" y2="343.64" stroke="#dadada" stroke-width="1.0"/><line x1="1547.7" y1="128.48" x2="1769.6" y2="255.78" stroke="#dadada" stroke-width="1.0"/><line x1="1547.7" y1="40.63" x2="1769.6" y2="167.93" stroke="#dadada" stroke-width="1.0"/><line x1="1746.9" y1="418.48" x2="1746.9" y2="142.08" stroke="#dadada" stroke-width="1.0"/><line x1="1682.14" y1="381.32" x2="1682.14" y2="104.92" stroke="#dadada" stroke-width="1.0"/><line x1="1617.38" y1="344.17" x2="1617.38" y2="67.77" stroke="#dadada" stroke-width="1.0"/><line x1="1552.62" y1="307.02" x2="1552.62" y2="30.62" stroke="#dadada" stroke-width="1.0"/><line x1="1534.7" y1="509.83" x2="1312.8" y2="382.53" stroke="#dadada" stroke-width="1.0"/><line x1="1638.46" y1="475.23" x2="1416.56" y2="347.93" stroke="#dadada" stroke-width="1.0"/><line x1="1742.21" y1="440.63" x2="1520.31" y2="313.33" stroke="#dadada" stroke-width="1.0"/><line x1="1456.6" y1="515.28" x2="1746.9" y2="418.48" stroke="#dadada" stroke-width="1.0"/><line x1="1391.84" y1="478.12" x2="1682.14" y2="381.32" stroke="#dadada" stroke-width="1.0"/><line x1="1327.08" y1="440.97" x2="1617.38" y2="344.17" stroke="#dadada" stroke-width="1.0"/><line x1="1262.32" y1="403.82" x2="1552.62" y2="307.02" stroke="#dadada" stroke-width="1.0"/></g>
<g class="axes" stroke-linecap="butt"><line x1="1257.5" y1="401" x2="1257.5" y2="124.6" stroke="#262626" stroke-width="1.2"/><line x1="1257.4" y1="401" x2="1479.3" y2="528.3" stroke="#262626" stroke-width="1.3"/><line x1="1479.3" y1="528.3" x2="1769.6" y2="431.5" stroke="#262626" stroke-width="1.3"/><line x1="1257.4" y1="401" x2="1250.11" y2="396.82" stroke="#262626" stroke-width="1.3"/><line x1="1257.4" y1="313.14" x2="1250.11" y2="308.96" stroke="#262626" stroke-width="1.3"/><line x1="1257.4" y1="225.28" x2="1250.11" y2="221.1" stroke="#262626" stroke-width="1.3"/><line x1="1257.4" y1="137.43" x2="1250.11" y2="133.25" stroke="#262626" stroke-width="1.3"/><line x1="1456.6" y1="515.28" x2="1448.63" y2="517.93" stroke="#262626" stroke-width="1.3"/><line x1="1391.84" y1="478.12" x2="1383.87" y2="480.78" stroke="#262626" stroke-width="1.3"/><line x1="1327.08" y1="440.97" x2="1319.11" y2="443.63" stroke="#262626" stroke-width="1.3"/><line x1="1262.32" y1="403.82" x2="1254.35" y2="406.48" stroke="#262626" stroke-width="1.3"/><line x1="1534.7" y1="509.83" x2="1541.99" y2="514.01" stroke="#262626" stroke-width="1.3"/><line x1="1638.46" y1="475.23" x2="1645.74" y2="479.41" stroke="#262626" stroke-width="1.3"/><line x1="1742.21" y1="440.63" x2="1749.5" y2="444.81" stroke="#262626" stroke-width="1.3"/></g>
<g font-size="24" fill="#000"><text x="1242.3" y="402.5" text-anchor="end">-0.5</text><text x="1242.3" y="314.64" text-anchor="end">0</text><text x="1242.3" y="226.78" text-anchor="end">0.5</text><text x="1242.3" y="138.93" text-anchor="end">1</text><text x="1440.6" y="545.28" text-anchor="end">0</text><text x="1375.84" y="508.12" text-anchor="end">0.5</text><text x="1311.08" y="470.97" text-anchor="end">1</text><text x="1246.32" y="433.82" text-anchor="end">1.5</text><text x="1548.9" y="541.83">0</text><text x="1652.66" y="507.23">1</text><text x="1756.41" y="472.63">2</text></g>
<g font-size="26.4" fill="#000"><text transform="translate(1185.7 262.8) rotate(-90)" text-anchor="middle">Z lead: Amplitude (mV)</text><text transform="translate(1354.69 552.16) rotate(29.84)" text-anchor="middle">Y lead: Amplitude (mV)</text><text transform="translate(1635.43 556.77) rotate(-18.44)" text-anchor="middle">X lead: Amplitude (mV)</text></g>
<text x="1513.5" y="21" text-anchor="middle" font-size="26.4" font-weight="bold">Quasi-Orthogonal tr.</text><g fill="none" stroke-width="1.3" stroke-linejoin="round" stroke-linecap="round"><polyline points="1522.44,410.56 1527.97,399.98 1528,400 1534.1,389.8 1542,380.7 1549.3,368.5 1555.3,356.4 1557.8,347.3 1560.2,335.2 1561.4,320 1561.3,320.24 1562.9,302.19 1567.14,289.45 1568.74,272.47 1568.74,254.42 1570.33,242.74 1570.31,240.01 1572.96,222.07 1575.62,200.84 1579.33,184.92 1582.51,168.99 1584.11,156.26 1587.82,142.46 1591.01,135.03 1591.54,121.23 1595.25,118.04 1605.92,119.11 1616.54,121.76 1631.4,124.63 1645.2,122.82 1661.12,124.94 1677.04,133.97 1688.72,141.93 1701.45,147.23 1701.98,149.89 1696.15,153.07 1691.9,159.44 1689.78,167.93 1685.53,180.67 1679.16,191.29 1668.55,202.96 1658.99,208.27 1643.07,215.7 1630.34,223.13 1616.54,230.56 1604.86,240.01 1602.71,241.68 1592.09,257.6 1584.66,272.47 1578.29,291.58 1574.05,309.63 1569.16,320.03 1567.5,329.1 1563.8,343.1 1560.2,351.6 1557.2,365.5 1552.9,377.6 1550.5,389.8 1548.7,400 1542.98,408.98 1538.24,416.89 1532.71,427.16 1527.18,435.06 1524.81,442.96 1524.81,449.28" stroke="#2262c4"/><polyline points="1524.02,407.4 1527.18,401.08 1530,398 1536,388 1543,379 1550,367 1555.8,357 1558.5,348 1560.8,341.2 1562.6,332.1 1563.2,320 1563.85,320.03 1564.49,302.19 1568.74,289.45 1569.8,272.47 1572.45,254.42 1573.2,242.74 1573.49,240.01 1575.08,211.45 1577.21,195.53 1581.45,174.3 1584.64,158.38 1589.94,147.77 1591.54,136.09 1592.07,128.66 1601.62,125.48 1610.01,127.07 1611.23,127.07 1626.09,131.31 1639.89,132.37 1653.69,131.84 1665.36,133.97 1680.22,144.58 1690.84,150.95 1702.51,157.32 1706.76,156.26 1709.41,159.97 1707.82,160.5 1704.64,157.85 1700.39,157.85 1695.08,160.5 1692.43,164.75 1691.9,174.3 1688.72,182.79 1679.16,194.47 1670.67,202.96 1653.69,211.45 1634.58,221.01 1621.84,230.56 1612.29,240.01 1608.02,245.93 1598.46,257.6 1589.97,272.47 1584.66,290.52 1580.42,309.63 1576.49,320.03 1574.2,327.3 1567.5,335.8 1562,344.3 1559,353.4 1555.3,362.5 1551.1,374.6 1548.1,383.7 1543.2,400 1538.24,416.89 1528.76,431.11 1524.02,439.01 1523.23,445.33 1524.81,449.28 1520.86,444.54 1516.91,439.01 1512.96,431.11" stroke="#2262c4"/><polyline points="1509.07,431.54 1510.85,429.84 1511.6,426.92 1513.02,425.42 1514.83,423.09 1514.72,420.27 1516.81,419.75 1517.63,417.77 1519.98,416.09 1520.75,412.84 1516.03,414.92 1514.03,415.78 1512.62,415.63 1510.21,415.39 1507.72,415.72 1504.72,416.67 1502.82,416.7 1499.98,416.54 1496.57,414.94 1494.66,415.08 1491.55,413.56 1490.66,412.83 1488.08,410.6 1486,410.12 1481.96,410.31 1480.11,408.43 1478.2,409.25 1475.47,408.94 1471.51,408.23 1468.79,406.79 1466.23,406.78 1464.6,406.1 1461.96,405.02 1459.23,404.9 1455.54,403.32 1452.95,402.78 1450.47,402.19 1447.86,402.65 1445.68,401.11 1442.6,400.96 1440.73,401.48 1438.24,401.01 1437.47,405.61 1437.56,407.58 1439.68,408.61 1440.29,410.97 1441.28,414.35 1442.47,416.3 1445.02,419.04 1446.24,420.68 1447.89,421.72 1451.36,422.27 1453.16,423.08 1455.43,424.66 1455.72,426.63 1457.99,428.81 1459.68,430.23 1462.88,430.53 1464.78,431.81 1466.75,432.62 1469.72,433.57 1471.46,436.37 1473.76,436.38 1476.14,437.39 1479.18,438.93 1482,438.97 1483.77,439.61 1487.4,440.74 1489.46,440.63 1491.73,442.18 1495.61,441.94 1498.28,441.87 1500.51,440.43 1503.51,439.02 1505.78,437.89 1506.13,436.07 1507.43,433.63 1509.64,430.3" stroke="#2262c4"/><polyline points="1504.73,437.74 1505.27,436.64 1507.95,433.92 1509.38,430.85 1510.78,428.94 1512.54,427.79 1512.28,424.7 1513.8,422.85 1516,421.11 1517.26,419.58 1519.76,416.25 1520.78,414.79 1521.98,411.44 1523.96,408.92 1528.5,411.08 1525.77,412.84 1523.23,416.19 1521.06,416.54 1520.92,419.01 1518.56,420.72 1516.42,421.25 1514.85,423.72 1513.52,426.13 1512.31,429.3 1511.48,430.82 1509.43,433.27 1508.03,435.16 1505.97,436.26" stroke="#2262c4"/><polyline points="1519.26,409.14 1519.25,411.19 1519.24,412.9 1519.79,412.83 1521.02,414.06 1521.09,416.78" stroke="#2262c4"/><polyline points="1524.33,412.01 1523.25,413.92 1522.15,413.76 1520.25,414.33 1518.56,412.32" stroke="#2262c4"/><polyline points="1519.03,415.96 1518.22,415.65 1520.34,411.46 1517.39,411.21 1519.4,409.36 1517.47,406.88" stroke="#2262c4"/><polyline points="1521.92,409.69 1522.47,409.78 1523.93,413.28 1524.6,414.99" stroke="#2262c4"/><polyline points="1503.48,413.73 1500.71,399.5 1501.11,383.7 1502.29,371.85 1502.38,370.04 1501.85,348.91 1503.97,336.17 1501.85,309.63 1494.95,278.84 1494.42,261.85 1490.17,240.01 1485.92,216.76 1482.74,193.41 1481.15,182.79 1481.68,163.69 1483.8,142.46 1485.92,129.72 1486.98,126.54 1486.45,119.64 1490.7,117.83 1507.15,122.82 1533.69,132.91 1550.67,138.21 1568.72,147.23 1584.64,158.38 1597.38,166.87 1605.92,173.24 1626.09,184.92 1638.83,189.69 1653.69,202.96 1658.99,209.33 1662.18,216.76 1665.36,230.56 1670.67,240.01 1671.27,242.13 1673.16,252.74 1670.89,264.87 1662.93,273.21 1649.28,277.76 1634.12,283.83 1622.74,287.62 1611.37,295.2 1604.55,304.3 1600,309.61 1595.28,314.93 1591.03,325.55 1586.79,342.54 1580.42,361.65 1574.58,370.04 1570,378.96 1560.36,391.6 1557.99,395.55 1548.51,404.24 1540.61,412.15 1532.71,419.26 1524.81,426.37 1516.91,431.11" stroke="#e00000"/><polyline points="1509.01,413.73 1506.64,395.55 1507.03,383.7 1510.34,370.04 1509.81,341.48 1508.22,323.43 1501.85,293.7 1498.13,261.85 1493.88,240.01 1490.17,216.76 1485.92,195.53 1482.74,184.92 1481.68,168.99 1482.74,153.07 1484.33,140.34 1484.86,131.84 1486.98,127.07 1491.23,126.54 1503.97,130.25 1533.69,143.52 1550.67,148.83 1565.53,156.79 1582.51,167.93 1597.38,178.55 1610.01,185.98 1618.66,190.75 1636.7,197.12 1648.38,207.21 1655.81,212.51 1656.87,222.07 1657.93,227.38 1664.3,237.99 1665.89,240.01 1668.23,247.44 1666.72,257.29 1660.65,267.15 1647.01,272.46 1631.84,275.49 1621.23,281.55 1611.37,292.17 1603.03,300.51 1600,305.82 1595.28,312.81 1591.03,323.43 1586.79,341.48 1581.48,359.53 1575.11,370.04 1570,377.38 1564.31,386.86 1559.57,391.6 1548.51,397.92 1538.24,405.03 1533.5,411.35 1532.71,416.89 1528.76,423.21 1524.02,429.53 1516.91,432.69" stroke="#e00000"/><polyline points="1517.38,419.64 1515.02,419.17 1510.91,420.04 1509.5,420.27 1506.41,419.75 1503.32,419.38 1501.35,417.84 1499.05,418.21 1494.96,417.61 1492.78,416.22 1491.1,416 1488.53,415.22 1485.28,413.19 1483.3,413.01 1480.87,411.71 1478.03,410.64 1474.83,409.49 1471.41,409.59 1468.97,409.08 1466.41,407.17 1463.91,407.2 1463.39,409.07 1463.93,412.56 1465.1,416.22 1467.91,417.23 1468.86,420.63 1471.27,422.13 1474.1,423.16 1475.53,425.4 1477.27,425.59 1478.67,428.73 1481.63,429.51 1483.43,430.37 1484.56,432.07 1486.99,432.53 1488.48,433.91 1491.73,435.23 1492.89,436.73 1495.99,437.33 1497.69,437.77 1501.01,438.83 1503.85,439.03 1505.53,439.65 1508.88,439.07 1511.14,438.88 1514.31,439.02 1517.36,438.02 1515.78,435.14 1516.49,432.94 1515.86,431.47" stroke="#e00000"/><polyline points="1507.38,416.96 1509.22,417.17 1509.83,415.77 1512.66,416.95 1513.09,416.08 1514.08,415.56 1515.99,414.09 1519.95,414.57 1520.06,414.1 1521.88,414.19 1524.26,414.01" stroke="#e00000"/><polyline points="1522.54,417.23 1518.21,415.26 1518.05,418.3 1516.23,416.4 1512.63,418.6 1512.51,419.08 1511.38,419.18" stroke="#e00000"/><polyline points="1525.63,417.26 1522.93,418.91 1520.22,419.25 1520.17,418.02 1519.2,417.88 1515.71,417.8 1515.47,418.54 1512.99,417.75 1510.85,419.09 1508.4,417.71" stroke="#e00000"/><polyline points="1507.11,419.57 1508.64,419.1 1511.28,418.98 1513.54,416.52 1513.87,417.87 1516,416.86 1518.21,414.26 1518.99,414.3 1520.85,413.75" stroke="#e00000"/><polyline points="1516.95,413.62 1517.11,415.91 1513.22,416.26 1513.23,417.76 1511.19,419.4 1510.77,418.74" stroke="#e00000"/><polyline points="1515.52,422.59 1516.17,420.93 1515.98,417.52 1516.88,416.76 1516.05,415.78 1516.43,413.8" stroke="#e00000"/><polyline points="1510.84,436 1513.07,437.23 1514.81,436.62 1515.36,435.41 1517.66,435.28 1520.65,434.97 1521.91,435.56" stroke="#e00000"/><polyline points="1514.06,429.36 1515.65,432.72 1513.78,434.43 1515.19,433.66 1514.99,436.41" stroke="#e00000"/><polyline points="1516.43,437 1518.37,436.36 1517.79,434.27 1520.09,432.77 1521.59,431.29" stroke="#e00000"/><polyline points="1522.33,437.61 1520.7,434.7 1519.77,434.02 1517.07,432.3 1514.55,433.24 1513.08,431.08" stroke="#e00000"/></g></g>
<g id="ax3"><g class="grid"><line x1="383.9" y1="1097.3" x2="673.5" y2="999.9" stroke="#dadada" stroke-width="1.0"/><line x1="383.9" y1="1009.75" x2="673.5" y2="912.35" stroke="#dadada" stroke-width="1.0"/><line x1="383.9" y1="922.21" x2="673.5" y2="824.81" stroke="#dadada" stroke-width="1.0"/><line x1="383.9" y1="834.66" x2="673.5" y2="737.26" stroke="#dadada" stroke-width="1.0"/><line x1="439.04" y1="1078.75" x2="439.04" y2="801.75" stroke="#dadada" stroke-width="1.0"/><line x1="542.69" y1="1043.89" x2="542.69" y2="766.89" stroke="#dadada" stroke-width="1.0"/><line x1="646.34" y1="1009.03" x2="646.34" y2="732.03" stroke="#dadada" stroke-width="1.0"/><line x1="673.5" y1="999.9" x2="896.2" y2="1126.9" stroke="#dadada" stroke-width="1.0"/><line x1="673.5" y1="912.35" x2="896.2" y2="1039.35" stroke="#dadada" stroke-width="1.0"/><line x1="673.5" y1="824.81" x2="896.2" y2="951.81" stroke="#dadada" stroke-width="1.0"/><line x1="673.5" y1="737.26" x2="896.2" y2="864.26" stroke="#dadada" stroke-width="1.0"/><line x1="871.1" y1="1112.59" x2="871.1" y2="835.59" stroke="#dadada" stroke-width="1.0"/><line x1="772.3" y1="1056.24" x2="772.3" y2="779.24" stroke="#dadada" stroke-width="1.0"/><line x1="673.5" y1="999.9" x2="673.5" y2="722.9" stroke="#dadada" stroke-width="1.0"/><line x1="661.74" y1="1205.75" x2="439.04" y2="1078.75" stroke="#dadada" stroke-width="1.0"/><line x1="765.39" y1="1170.89" x2="542.69" y2="1043.89" stroke="#dadada" stroke-width="1.0"/><line x1="869.04" y1="1136.03" x2="646.34" y2="1009.03" stroke="#dadada" stroke-width="1.0"/><line x1="581.5" y1="1209.99" x2="871.1" y2="1112.59" stroke="#dadada" stroke-width="1.0"/><line x1="482.7" y1="1153.64" x2="772.3" y2="1056.24" stroke="#dadada" stroke-width="1.0"/><line x1="383.9" y1="1097.3" x2="673.5" y2="999.9" stroke="#dadada" stroke-width="1.0"/></g>
<g class="axes" stroke-linecap="butt"><line x1="383.5" y1="1097.3" x2="383.5" y2="820.3" stroke="#262626" stroke-width="1.2"/><line x1="383.9" y1="1097.3" x2="606.6" y2="1224.3" stroke="#262626" stroke-width="1.3"/><line x1="606.6" y1="1224.3" x2="896.2" y2="1126.9" stroke="#262626" stroke-width="1.3"/><line x1="383.9" y1="1097.3" x2="376.6" y2="1093.14" stroke="#262626" stroke-width="1.3"/><line x1="383.9" y1="1009.75" x2="376.6" y2="1005.59" stroke="#262626" stroke-width="1.3"/><line x1="383.9" y1="922.21" x2="376.6" y2="918.04" stroke="#262626" stroke-width="1.3"/><line x1="383.9" y1="834.66" x2="376.6" y2="830.5" stroke="#262626" stroke-width="1.3"/><line x1="581.5" y1="1209.99" x2="573.54" y2="1212.67" stroke="#262626" stroke-width="1.3"/><line x1="482.7" y1="1153.64" x2="474.74" y2="1156.32" stroke="#262626" stroke-width="1.3"/><line x1="383.9" y1="1097.3" x2="375.94" y2="1099.98" stroke="#262626" stroke-width="1.3"/><line x1="661.74" y1="1205.75" x2="669.04" y2="1209.92" stroke="#262626" stroke-width="1.3"/><line x1="765.39" y1="1170.89" x2="772.69" y2="1175.06" stroke="#262626" stroke-width="1.3"/><line x1="869.04" y1="1136.03" x2="876.34" y2="1140.19" stroke="#262626" stroke-width="1.3"/></g>
<g font-size="24" fill="#000"><text x="368.8" y="1098.8" text-anchor="end">-0.5</text><text x="368.8" y="1011.25" text-anchor="end">0</text><text x="368.8" y="923.71" text-anchor="end">0.5</text><text x="368.8" y="836.16" text-anchor="end">1</text><text x="565.5" y="1239.99" text-anchor="end">0</text><text x="466.7" y="1183.64" text-anchor="end">0.5</text><text x="367.9" y="1127.3" text-anchor="end">1</text><text x="675.94" y="1237.75">0</text><text x="779.59" y="1202.89">1</text><text x="883.24" y="1168.03">2</text></g>
<g font-size="26.4" fill="#000"><text transform="translate(312.2 958.8) rotate(-90)" text-anchor="middle">Z lead: Amplitude (mV)</text><text transform="translate(481.82 1248.34) rotate(29.69)" text-anchor="middle">Y lead: Amplitude (mV)</text><text transform="translate(762.58 1252.45) rotate(-18.59)" text-anchor="middle">X lead: Amplitude (mV)</text></g>
<text x="640.05" y="717.3" text-anchor="middle" font-size="26.4" font-weight="bold">QLSV</text><g fill="none" stroke-width="1.3" stroke-linejoin="round" stroke-linecap="round"><polyline points="652.8,1110.97 655.53,1101.87 659.17,1083.68 660.99,1065.48 662.35,1038.19 663.69,1030.01 662.63,1017.38 661.56,990.84 657.85,977.04 660.5,962.18 657.32,939.89 653.07,926.09 656.26,914.41 653.07,900.61 652.26,900.01 650.67,876.76 649.08,855.53 648.02,834.3 647.27,813.07 648.55,797.15 650.14,790.78 649.61,780.17 649.08,777.51 653.32,774.86 669.78,778.58 686.76,783.35 699.5,787.07 710.01,787.81 719.72,788.49 740.95,793.8 762.18,805.48 783.41,819.27 802.51,828.83 808.35,830.42 813.13,838.38 817.38,841.03 824.27,848.99 823.21,850.06 817.38,852.18 816.84,858.55 818.97,868.1 819.5,877.65 814.19,888.27 802.51,899.94 796.15,901.01 774.92,907.38 753.69,912.68 734.58,920.01 718.88,930.34 709.33,946.26 701.9,962.18 699.25,980.22 697.65,1006.76 692.35,1027.99 680,1060.94 674.63,1070.94 665.53,1085.5 658.26,1097.32 653.71,1106.42" stroke="#2262c4"/><polyline points="654.62,1106.42 658.26,1097.32 662.81,1083.68 663.72,1065.48 666.44,1042.74 666.87,1030.01 666.87,1019.5 663.69,1001.45 661.03,980.22 659.97,964.3 661.03,953.69 657.32,937.77 657.32,921.84 655.2,909.11 653.86,900.01 651.73,882.07 649.61,860.84 650.67,839.61 652.26,818.38 655.98,808.83 654.92,799.27 652.26,791.84 653.86,786.54 663.41,784.94 676.15,788.13 694.19,793.97 710.01,797.15 732.46,800.17 748.38,804.41 769.61,818.21 785.53,828.83 804.64,838.91 815.25,842.1 817.38,843.69 816.84,854.3 817.91,860.67 820.03,871.29 819.5,878.72 813.13,890.39 801.45,899.94 774.92,908.44 753.69,911.62 740.95,920.01 725.25,931.4 714.64,945.2 707.21,961.12 704.02,982.35 702.96,1001.45 700.84,1022.68 695.53,1030.01 680,1062.75 672.81,1074.58 663.72,1088.23 656.44,1100.05 652.8,1109.15" stroke="#2262c4"/><polyline points="653.08,1106.23 650.97,1107.07 649.16,1108.43 646.67,1110.71 645.1,1111.02 642.77,1111.04 639.74,1110.58 637.46,1110.94 635.33,1111.12 633.61,1110.5 631.46,1111.03 629.29,1110.34 626.47,1110.32 624.2,1110.3 621.77,1108.38 619.65,1109.01 617.19,1107.31 615.87,1106.25 612.73,1106.09 610.79,1105 608.16,1104.59 606.09,1105.52 603.42,1104.06 602.26,1103.31 598.74,1103.3 596.68,1102.94 595.35,1101.15 592.17,1100.25 590.43,1100.09 588.16,1099.92 585.49,1099.33 582.35,1097.59 581.28,1097.43 578.57,1096.23 576.51,1094.49 573.84,1093.11 572.45,1092.94 569.28,1092.26 566.81,1092.5 564.83,1091.51 562.01,1092.53 560.19,1092.34 557.14,1090.59 554.87,1091.05 553.39,1091.2 550.95,1093.28 551.64,1094.61 552.73,1097.8 553.54,1099.13 556.74,1101.86 557.9,1103.55 559.13,1106.07 561.77,1107.21 564.46,1109.08 566.23,1111.88 567.98,1113.58 570.53,1113.73 572.69,1116.37 573.02,1116.96 575.77,1118.13 576.53,1120.36 579.18,1121 581.31,1122.95 583.32,1123.48 586.01,1124.85 587.52,1126 590.9,1127.3 592.19,1128.13 595.37,1128.31 597.64,1129.2 598.58,1131.33 600.98,1131.94 603.32,1134.23 605.4,1134.55 607.53,1135.06 610.31,1135.3 613.62,1136.36 615.5,1136.58 617.52,1136.92 620.25,1136.72 621.5,1138.19 624.83,1137.58 626.47,1136.14 628.85,1136.46 631.38,1136.17 632.75,1135.12 635.07,1133.1 637.27,1132.87 639.23,1131.96 641.65,1131.07 644.74,1129.81 644.85,1131.22 646.66,1133.72 647.65,1136.29 649.8,1138.95" stroke="#2262c4"/><polyline points="651.57,1105.17 651.69,1104.84 650.36,1106.93 650.35,1109.41 650.27,1112.09 650.72,1112.7 649.34,1113.36 651.44,1116.1 651,1116.6 649.5,1118.34 650.79,1120.92 650.61,1123.18 649.63,1125.24" stroke="#2262c4"/><polyline points="640.26,1119.46 643.78,1117.38 643.54,1117.98 646.08,1117.02 646.02,1115.1 647.49,1113.59 648.58,1113.72 649.68,1113.56 650.71,1111.83 654.35,1110.5 653.27,1110.7 655.24,1107.67" stroke="#2262c4"/><polyline points="650.24,1122.19 650.29,1121.52 651.1,1117.71 650.57,1116.14 649.12,1114.7 650.19,1113.98 651.77,1113.8 651.61,1109.6 650.73,1109.54 651.37,1108.64" stroke="#2262c4"/><polyline points="654.95,1115.06 652.53,1115.64 652.39,1115.52 650.31,1117.19 650.59,1119.68 650.28,1120.22 647.64,1121.74 648.01,1123.94" stroke="#2262c4"/><polyline points="650.84,1122.49 648.84,1121.08 650.34,1118.97 650.86,1116.32 650.95,1115.57 650.83,1113.52 649.6,1113.24 651.13,1111.12 651.23,1109.64 650.67,1108.1 651.63,1106.49" stroke="#2262c4"/><polyline points="653.96,1105.69 655.39,1107.64 653.91,1108.46 652.37,1110.44 650.96,1112.14 649.11,1112.55 648.49,1114.35 649.94,1114.98 648.72,1117.04 647.3,1117.02 644.57,1120.53" stroke="#2262c4"/><polyline points="641.87,1119.83 642.03,1116.76 645.3,1119.13 644.88,1116.32 648,1117.43 648.25,1117.36 650.5,1116.42 653.84,1116.83 655.65,1116.34 655.99,1115.06" stroke="#2262c4"/><polyline points="659.63,1113.8 657.04,1111.35 655.93,1111.73 653.42,1112.54 652.42,1113.99 651.58,1113.85 648.85,1113.88 647.95,1114.51 646.53,1113.18 643.07,1114.28" stroke="#2262c4"/><polyline points="644.61,1110.97 645.52,1101.87 645.98,1088.23 644.61,1070.03 645.52,1056.39 643.7,1038.19 641.4,1030.01 636.09,996.15 631.84,980.22 625.48,958.99 619.11,932.46 616.45,916.54 613.8,899.55 613.52,900.01 612.46,892.68 611.4,882.07 611.93,870.39 610.34,863.49 612.46,861.37 633.69,869.33 646.43,871.98 654.92,872.51 669.78,876.76 686.76,887.38 697.38,893.74 707.99,896.93 708.58,896.76 709.11,899.94 705.92,901.01 703.8,904.19 702.74,910.56 703.8,920.01 705.08,932.46 700.84,944.13 690.22,952.63 678.55,961.12 668.99,972.79 662.63,982.35 658.38,994.02 655.73,1006.76 657.85,1030.01 659.17,1033.65 662.81,1045.47 659.17,1056.39 655.53,1074.58 650.07,1088.23 647.34,1097.32 649.16,1110.97 650.07,1124.61 651.89,1136.44" stroke="#e00000"/><polyline points="648.25,1115.52 649.16,1106.42 651.89,1097.32 653.71,1083.68 651.89,1065.48 649.16,1047.29 644.58,1030.01 638.21,1006.76 632.91,985.53 626.54,964.3 622.29,943.07 617.51,921.84 616.98,899.55 617.23,900.01 616.7,887.38 615.64,876.76 613.52,869.86 616.7,869.33 633.69,874.64 649.61,879.41 665.53,882.07 675.08,886.31 686.76,893.74 695.25,900.01 702.74,903.13 709.11,903.66 716.54,905.78 711.23,906.31 706.98,907.38 704.86,911.62 706.98,920.01 708.27,921.84 706.15,934.58 699.78,946.26 684.92,956.87 672.18,969.61 663.69,980.22 659.44,990.84 656.26,1004.64 659.44,1017.38 661.03,1030.01 662.35,1042.74 659.17,1051.84 657.35,1065.48 652.8,1083.68 649.16,1092.77 647.34,1106.42 646.43,1120.06 647.34,1129.16 651.89,1135.53" stroke="#e00000"/><polyline points="643.03,1119.66 642.64,1116.68 644.16,1113.86 644.42,1112.64 642.46,1110.76 640.65,1112.31 638.39,1110.38 635.57,1111.7 632.52,1110.67 630.65,1109.27 628.44,1109.45 625.96,1108.64 623.58,1107.84 621.99,1106.06 619.12,1106.16 616.94,1105.29 614.74,1105.02 613.59,1104.32 610.44,1103.94 607.54,1103.44 605.93,1102.66 602.9,1103.12 601.03,1101.03 598.67,1100.31 597.26,1099.44 594.71,1099.4 591.76,1098.45 589.92,1097.33 586.86,1097.63 584.07,1098.71 581.5,1099.12 581.92,1100.52 584.41,1102.96 585.08,1107.03 587.86,1109.82 589.91,1110.39 590.88,1112.32 592.7,1113.14 594.53,1113.77 596.08,1115.56 598.31,1116.5 600.56,1119.02 603.64,1119.69 606.03,1120.53 608.76,1121.7 611.1,1122.51 613.03,1124.24 615.63,1125.45 616.74,1126.82 619.24,1129.21 621.46,1129.82 624.2,1130.15 626.89,1129.85 629.68,1131.27 632.65,1130.46 636.39,1130.68 638.31,1128.95 640.74,1125.68 640.2,1124.87 641.68,1122.14 642.37,1120.8" stroke="#e00000"/><polyline points="651.61,1118.19 648.75,1117.24 648.18,1117.26 646.12,1117.46 644.95,1117.13 642.78,1117.47 639.93,1117.1" stroke="#e00000"/><polyline points="650.09,1117.92 648.33,1117.92 645.14,1120.97 645.06,1120.69 641.88,1120.21 640.19,1121.21 640.84,1123.18" stroke="#e00000"/><polyline points="648.29,1122.66 648.06,1121.55 647.05,1121.71 645.36,1119.49 644.82,1117.16 643.3,1114.93 643.09,1115.47 642.91,1111.94 641.36,1110.67" stroke="#e00000"/><polyline points="640.44,1117.23 641.12,1119.42 643.36,1118.57 643.81,1120.49 646.58,1122.01 646.02,1122.92" stroke="#e00000"/><polyline points="651.27,1116.64 649.89,1115.46 648.17,1117.62 646.07,1117.42 643.71,1116.23 641.82,1118.6 639.43,1118.09 638.86,1118.89" stroke="#e00000"/><polyline points="650.07,1114.21 651.03,1114.8 648.48,1118.24 647.64,1118.05 646.4,1119.62 646.23,1119.87 643.92,1121.74 642.83,1123.75 643.23,1125.78 641.01,1126.79" stroke="#e00000"/></g></g>
<g id="ax4"><g class="grid"><line x1="966.1" y1="1097" x2="1260.2" y2="999.6" stroke="#dadada" stroke-width="1.0"/><line x1="966.1" y1="1009.63" x2="1260.2" y2="912.23" stroke="#dadada" stroke-width="1.0"/><line x1="966.1" y1="922.26" x2="1260.2" y2="824.86" stroke="#dadada" stroke-width="1.0"/><line x1="966.1" y1="834.89" x2="1260.2" y2="737.49" stroke="#dadada" stroke-width="1.0"/><line x1="1025.09" y1="1077.47" x2="1025.09" y2="800.77" stroke="#dadada" stroke-width="1.0"/><line x1="1128.75" y1="1043.13" x2="1128.75" y2="766.43" stroke="#dadada" stroke-width="1.0"/><line x1="1232.42" y1="1008.8" x2="1232.42" y2="732.1" stroke="#dadada" stroke-width="1.0"/><line x1="1260.2" y1="999.6" x2="1485.6" y2="1126.9" stroke="#dadada" stroke-width="1.0"/><line x1="1260.2" y1="912.23" x2="1485.6" y2="1039.53" stroke="#dadada" stroke-width="1.0"/><line x1="1260.2" y1="824.86" x2="1485.6" y2="952.16" stroke="#dadada" stroke-width="1.0"/><line x1="1260.2" y1="737.49" x2="1485.6" y2="864.79" stroke="#dadada" stroke-width="1.0"/><line x1="1462.9" y1="1114.08" x2="1462.9" y2="837.38" stroke="#dadada" stroke-width="1.0"/><line x1="1372.41" y1="1062.97" x2="1372.41" y2="786.27" stroke="#dadada" stroke-width="1.0"/><line x1="1281.92" y1="1011.87" x2="1281.92" y2="735.17" stroke="#dadada" stroke-width="1.0"/><line x1="1250.49" y1="1204.77" x2="1025.09" y2="1077.47" stroke="#dadada" stroke-width="1.0"/><line x1="1354.15" y1="1170.43" x2="1128.75" y2="1043.13" stroke="#dadada" stroke-width="1.0"/><line x1="1457.82" y1="1136.1" x2="1232.42" y2="1008.8" stroke="#dadada" stroke-width="1.0"/><line x1="1168.8" y1="1211.48" x2="1462.9" y2="1114.08" stroke="#dadada" stroke-width="1.0"/><line x1="1078.31" y1="1160.37" x2="1372.41" y2="1062.97" stroke="#dadada" stroke-width="1.0"/><line x1="987.82" y1="1109.27" x2="1281.92" y2="1011.87" stroke="#dadada" stroke-width="1.0"/></g>
<g class="axes" stroke-linecap="butt"><line x1="966.5" y1="1097" x2="966.5" y2="820.3" stroke="#262626" stroke-width="1.2"/><line x1="966.1" y1="1097" x2="1191.5" y2="1224.3" stroke="#262626" stroke-width="1.3"/><line x1="1191.5" y1="1224.3" x2="1485.6" y2="1126.9" stroke="#262626" stroke-width="1.3"/><line x1="966.1" y1="1097" x2="958.79" y2="1092.87" stroke="#262626" stroke-width="1.3"/><line x1="966.1" y1="1009.63" x2="958.79" y2="1005.5" stroke="#262626" stroke-width="1.3"/><line x1="966.1" y1="922.26" x2="958.79" y2="918.13" stroke="#262626" stroke-width="1.3"/><line x1="966.1" y1="834.89" x2="958.79" y2="830.76" stroke="#262626" stroke-width="1.3"/><line x1="1168.8" y1="1211.48" x2="1160.83" y2="1214.12" stroke="#262626" stroke-width="1.3"/><line x1="1078.31" y1="1160.37" x2="1070.34" y2="1163.01" stroke="#262626" stroke-width="1.3"/><line x1="987.82" y1="1109.27" x2="979.84" y2="1111.91" stroke="#262626" stroke-width="1.3"/><line x1="1250.49" y1="1204.77" x2="1257.8" y2="1208.9" stroke="#262626" stroke-width="1.3"/><line x1="1354.15" y1="1170.43" x2="1361.47" y2="1174.56" stroke="#262626" stroke-width="1.3"/><line x1="1457.82" y1="1136.1" x2="1465.13" y2="1140.23" stroke="#262626" stroke-width="1.3"/></g>
<g font-size="24" fill="#000"><text x="951" y="1098.5" text-anchor="end">-0.5</text><text x="951" y="1011.13" text-anchor="end">0</text><text x="951" y="923.76" text-anchor="end">0.5</text><text x="951" y="836.39" text-anchor="end">1</text><text x="1152.8" y="1241.48" text-anchor="end">0</text><text x="1062.31" y="1190.37" text-anchor="end">0.5</text><text x="971.82" y="1139.27" text-anchor="end">1</text><text x="1264.69" y="1236.77">0</text><text x="1368.35" y="1202.43">1</text><text x="1472.02" y="1168.1">2</text></g>
<g font-size="26.4" fill="#000"><text transform="translate(894.4 958.65) rotate(-90)" text-anchor="middle">Z lead: Amplitude (mV)</text><text transform="translate(1065.73 1248.25) rotate(29.46)" text-anchor="middle">Y lead: Amplitude (mV)</text><text transform="translate(1349.37 1252.5) rotate(-18.32)" text-anchor="middle">X lead: Amplitude (mV)</text></g>
<text x="1225.85" y="717" text-anchor="middle" font-size="26.4" font-weight="bold">PLSV</text><g fill="none" stroke-width="1.3" stroke-linejoin="round" stroke-linecap="round"><polyline points="1248.3,1098.72 1250.27,1088.86 1253.23,1074.08 1257.17,1054.36 1259.14,1029.72 1259.34,1019.86 1259.61,1020.01 1258.55,1002.07 1256.43,984.02 1260.67,970.22 1258.55,948.99 1254.3,933.07 1256.43,911.84 1255.36,895.92 1254.83,890.08 1254.39,890.01 1253.32,872.07 1254.39,856.15 1254.92,840.22 1254.92,824.3 1257.04,811.56 1258.1,803.07 1257.57,790.87 1261.29,787.68 1276.15,789.8 1286.76,792.99 1302.68,796.7 1310.01,798.3 1323.97,798.49 1344.13,803.27 1364.3,814.41 1382.35,825.03 1399.33,834.05 1404.64,835.64 1411.01,844.13 1418.44,852.63 1417.38,853.16 1413.13,851.56 1409.94,854.75 1408.35,860.06 1409.94,868.55 1408.88,878.1 1402.51,889.78 1391.9,900.39 1374.92,905.7 1346.26,914.72 1328.21,922.15 1317.6,930.01 1312.68,933.07 1302.07,948.99 1294.64,964.92 1290.39,986.15 1289.33,1007.38 1285.08,1020.01 1282.8,1029.72 1271.96,1059.29 1262.1,1077.03 1251.25,1090.84 1245.34,1100.69" stroke="#2262c4"/><polyline points="1256.18,1083.94 1257.17,1074.08 1262.1,1054.36 1263.58,1024.79 1262.1,1019.86 1261.73,1020.01 1259.08,996.76 1260.14,975.53 1259.61,962.79 1258.02,943.69 1258.55,927.77 1255.36,901.23 1254.83,890.08 1254.92,890.01 1254.39,866.76 1256.51,845.53 1259.16,829.61 1262.35,818.99 1261.29,808.38 1259.69,803.07 1261.29,798.83 1270.84,796.7 1281.45,798.83 1297.38,804.13 1310.01,805.73 1321.84,808.58 1335.64,809.64 1350.5,812.82 1369.61,825.03 1382.35,834.58 1402.51,844.67 1411.01,846.26 1409.41,851.56 1407.82,858.99 1410.48,869.61 1409.94,879.16 1402.51,890.84 1389.78,901.45 1364.3,909.94 1345.2,915.25 1330.34,922.15 1323.97,930.01 1320.01,934.13 1308.44,946.87 1299.94,962.79 1296.76,980.84 1294.64,1002.07 1291.45,1020.01 1290,1024.79 1277.87,1049.43 1268.01,1067.18 1258.15,1080.98 1248.3,1095.76 1244.97,1111.04 1243.11,1123.45 1241.87,1135.87 1242.49,1142.07 1241.25,1145.18 1238.76,1140.83 1235.66,1135.87" stroke="#2262c4"/><polyline points="1226.74,1113.62 1225.39,1113.9 1220.66,1113.65 1218.78,1112.81 1217.17,1112.19 1213.92,1112.23 1212.68,1112.14 1210.7,1110.1 1207.84,1108.99 1206.44,1108.44 1204.13,1107.69 1202.39,1106.17 1199.3,1104.28 1196.13,1105.94 1193.16,1106.34 1190.13,1104.01 1187.98,1103.76 1184.38,1102.85 1182.88,1101.95 1181.24,1100.33 1178.52,1099.95 1177.75,1099.54 1174.38,1098.09 1171.92,1098.45 1168.27,1097.08 1167.1,1096.59 1163.97,1095.56 1162.16,1093.47 1158.55,1094.67 1156.3,1094.33 1153.86,1095 1150.26,1095.69 1146.13,1093.43 1145.61,1095.29 1145.66,1098.27 1146.25,1100.91 1148.84,1103.46 1149.2,1105.44 1150.16,1106.44 1151.44,1109.55 1153.94,1110.41 1157.04,1113.93 1158.44,1115.24 1162.28,1115.24 1163.71,1116.41 1166.51,1117.62 1168.34,1120.49 1170.89,1121.32 1173.54,1121.45 1174.86,1122.93 1176.03,1124.04 1178.38,1124.92 1180.85,1127.09 1182.95,1127.38 1184.7,1128.8 1187.75,1128.77 1189.3,1131.14 1190.78,1133.55 1193.67,1134.14 1196.24,1134.71 1200.12,1134.67 1203.18,1136.56 1205.98,1136.91 1209.03,1138.04 1210.94,1138.03 1212.7,1138.85 1214.4,1137.22 1217.23,1136.98 1217.96,1134.36 1220,1133.11 1222.07,1133.31 1224.23,1131.31 1227.08,1130.32 1229.38,1128.57 1230.13,1126.39 1230.62,1122.58" stroke="#2262c4"/><polyline points="1241.44,1120.24 1241.25,1119.22 1241.13,1118.14 1240.43,1115.05 1237.85,1113.31 1236.7,1113.46 1237.01,1112.71 1233.53,1109.38 1232.79,1107.43" stroke="#2262c4"/><polyline points="1242.16,1104.81 1241.03,1105.85 1241.95,1106.42 1238.82,1109.7 1240.26,1112.33 1237.91,1113.14 1237.36,1115.09 1237.76,1114.53 1237.06,1116.5 1235.6,1119.61" stroke="#2262c4"/><polyline points="1241.15,1114.45 1239.09,1113.81 1238.16,1114.44 1237.26,1114.63 1235.07,1116.63 1234.53,1115.77 1233.73,1118.4" stroke="#2262c4"/><polyline points="1238.41,1106.31 1239.78,1108.35 1237.76,1111.55 1238.69,1112.27 1239.24,1114.05 1236.86,1116.1 1238.44,1115.71 1237.54,1117.47 1236.98,1119.66" stroke="#2262c4"/><polyline points="1244.3,1113.75 1242.03,1114.15 1239.7,1113.47 1238.68,1112.94 1238.24,1110.7 1236.65,1111.35 1233.7,1110.77 1233.61,1110.31 1230.01,1109.83" stroke="#2262c4"/><polyline points="1239.16,1106.84 1236.93,1108.85 1237.18,1108.81 1235.31,1111.82 1233.49,1112.95 1232.52,1112.35" stroke="#2262c4"/><polyline points="1237.82,1106.54 1236.92,1109.01 1236.9,1111.93 1236.47,1113.66 1234.29,1115.05 1235.14,1115.77 1234.27,1117.6 1232.4,1118.34 1233.2,1119.67" stroke="#2262c4"/><polyline points="1230.55,1111.54 1227.59,1108.58 1223.65,1093.79 1224.14,1074.08 1226.12,1059.29 1225.13,1034.65 1226.61,1019.86 1226.7,1020.01 1225.64,1007.38 1223.52,986.15 1220.34,970.22 1213.97,948.99 1211.84,927.77 1203.35,901.23 1201.23,890.08 1201.84,890.01 1197.6,872.07 1194.41,856.15 1190.7,840.22 1189.11,818.99 1187.51,797.77 1187.51,781.84 1189.11,776.54 1186.98,768.04 1185.39,764.86 1188.58,762.21 1203.97,764.86 1229.44,771.23 1246.43,772.29 1265.53,777.6 1282.51,786.09 1297.38,795.64 1310.01,803.07 1322.91,810.17 1325.03,814.41 1328.21,816.54 1336.7,825.03 1338.3,830.34 1336.7,839.89 1334.58,849.44 1336.7,857.93 1340.95,866.43 1344.13,873.86 1342.01,885.53 1335.64,899.33 1318.66,912.07 1300.61,921.62 1292.12,930.01 1288.27,934.13 1278.72,951.12 1272.35,964.92 1268.1,981.9 1267.57,994.64 1269.69,1007.38 1270.75,1020.01 1270.97,1029.72 1271.96,1034.65 1269.98,1044.5 1266.04,1059.29 1262.1,1074.08 1258.15,1083.94 1251.25,1098.72 1246.32,1113.51 1241.4,1123.37 1238.44,1133.23" stroke="#e00000"/><polyline points="1233.51,1113.51 1231.54,1108.58 1228.58,1098.72 1228.58,1083.94 1230.55,1074.08 1234,1057.32 1231.54,1024.79 1231.04,1019.86 1231.48,1020.01 1230.95,1007.38 1226.7,991.45 1222.46,975.53 1218.21,954.3 1213.97,933.07 1205.48,901.23 1202.29,890.08 1202.91,890.01 1199.72,872.07 1195.48,854.02 1193.88,834.92 1193.35,813.69 1193.88,792.46 1192.29,782.91 1189.64,775.48 1191.23,770.17 1197.6,769.64 1208.21,771.23 1228.38,776.01 1254.92,780.25 1270.84,785.03 1286.76,794.58 1302.68,804.13 1310.01,808.38 1321.84,814.41 1325.03,815.48 1326.09,817.6 1330.34,825.03 1334.58,838.83 1335.11,848.38 1335.64,853.69 1342.01,867.49 1343.07,880.22 1342.01,896.15 1332.46,909.94 1316.54,919.5 1303.8,930.01 1287.21,941.56 1277.65,953.24 1272.35,967.04 1269.16,978.72 1268.1,992.51 1270.22,1007.38 1271.82,1020.01 1272.94,1031.69 1268.01,1044.5 1264.07,1064.22 1258.15,1079.01 1248.3,1090.84 1245.34,1098.72 1243.37,1108.58 1240.41,1118.44" stroke="#e00000"/><polyline points="1227.88,1116.79 1224.52,1115.75 1220.49,1116.54 1218.88,1117.3 1216.5,1117.38 1213.92,1117.6 1212.34,1116.86 1208.95,1118.19 1205.91,1117.98 1203.15,1119.9 1199.08,1120.16 1197.58,1119.93 1194.45,1119.34 1193.02,1119.57 1190.38,1119.91 1187.65,1120.26 1184.4,1119.11 1182.63,1117.92 1179.82,1117.88 1178.76,1117.88 1176.49,1117.13 1174.14,1117.71 1171.7,1118.31 1168.46,1118.53 1165.79,1120.18 1165.69,1124.28 1167.79,1125.67 1168.71,1127.05 1170.74,1128.79 1172.05,1130.7 1174.3,1132.15 1176.53,1131.82 1180.35,1131.77 1181.72,1134.62 1184.52,1136.35 1186.04,1136.88 1188.73,1138.19 1190.51,1137.76 1193.37,1138.26 1197.2,1139.76 1199.15,1140.19 1200.32,1142.31 1202.16,1142.78 1204.95,1141.81 1208.24,1142.2 1209.33,1141.95 1212.67,1142.35 1214.42,1142.74 1218.81,1142.97 1221.31,1143.35 1224.12,1142.15 1225.65,1139.78 1227.48,1138.96 1230.54,1138 1233.18,1136.91 1234.68,1137.04 1236.76,1135.74 1236.76,1131.92 1236.1,1128.83 1233.96,1126.05" stroke="#e00000"/><polyline points="1235.69,1135.87 1236.31,1134.34 1236.98,1131.31 1234.61,1131.04 1235.98,1127.65 1235.05,1127.77 1235.75,1125.99 1236.86,1123.18 1236.6,1120.94" stroke="#e00000"/><polyline points="1235.09,1133.4 1234.95,1133.49 1235.74,1130.05 1236.05,1129.82 1237.14,1128.79 1238.13,1126.8 1239.43,1125.83 1240.68,1123.09" stroke="#e00000"/><polyline points="1235.88,1133.53 1234.03,1131.16 1236.3,1128.68 1236.18,1127.76 1236.56,1125.44 1235.13,1124.23 1236.78,1123.36 1236.67,1121.72" stroke="#e00000"/><polyline points="1232.47,1125.38 1234.04,1124.25 1235.54,1127.51 1237.26,1127.5 1237.75,1128.88 1239.52,1128.41" stroke="#e00000"/><polyline points="1241.4,1128.54 1239.57,1130.01 1238.34,1128.26 1236.47,1131.51 1233.12,1130.25 1234.11,1130.85 1232.56,1132.18" stroke="#e00000"/><polyline points="1234.09,1132.06 1232.56,1130.37 1233.09,1130.15 1234.1,1128.98 1236.9,1125.81 1236.14,1123.78 1236.78,1123.7 1239.14,1120.95" stroke="#e00000"/></g></g>
<rect x="1550.0" y="724.0" width="219.0" height="63.5" fill="#fff" stroke="#262626" stroke-width="1.2"/>
<line x1="1557.3" y1="741.3" x2="1629" y2="741.3" stroke="#2262c4" stroke-width="1.1"/>
<line x1="1557.3" y1="770.2" x2="1629" y2="770.2" stroke="#e00000" stroke-width="1.1"/>
<text x="1634.3" y="749.8" font-size="21.6">Original VCG</text>
<text x="1634.3" y="778.9" font-size="21.6">Derived VCG</text></svg>
</body></html>
